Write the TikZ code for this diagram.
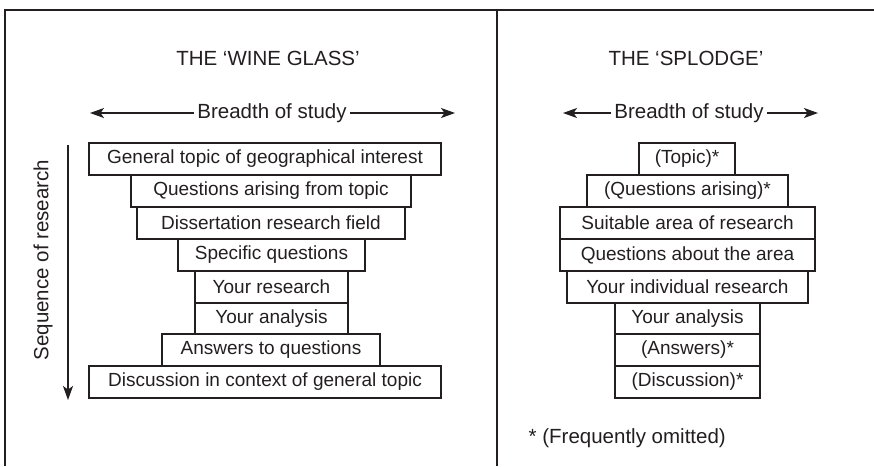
\documentclass[tikz,border=0pt]{standalone}
\usepackage{fontspec}
\setmainfont{Liberation Sans}
\usetikzlibrary{positioning,arrows.meta}
\definecolor{ink}{HTML}{231F20}
\tikzset{
  stage/.style = {draw=ink, line width=1.4pt, minimum height=32pt,
                  inner sep=0pt, text=ink, font=\fontsize{19}{21}\selectfont},
  ttl/.style   = {text=ink, inner sep=3.5pt, font=\fontsize{20.5}{23}\selectfont},
  ar/.style    = {-{Stealth[length=14pt,width=10pt,inset=3.5pt]}, line width=1.3pt, draw=ink},
  frame/.style = {draw=ink, line width=2.5pt},
}

\begin{document}
\begin{tikzpicture}[x=1pt,y=-1pt]
\useasboundingbox (0,0) rectangle (874,466);
% panels
\draw[frame] (5,466) -- (5,10) -- (874,10);
\draw[frame] (497,10) -- (497,466);

% the wine glass
\node[ttl] (wgtitle) at (268,58) {THE ‘WINE GLASS’};
\node[ttl] (wgbr) at (272,113) {Breadth of study};
\coordinate (wgbrL) at (90,113);
\coordinate (wgbrR) at (455,113);
\draw[ar] (wgbr.west) -- (wgbrL);
\draw[ar] (wgbr.east) -- (wgbrR);
\node[stage, minimum width=352pt] (wg1) at (265,159) {General topic of geographical interest};
\node[stage, minimum width=280pt] (wg2) at (271,191) {Questions arising from topic};
\node[stage, minimum width=268pt] (wg3) at (271,223) {Dissertation research field};
\node[stage, minimum width=187pt] (wg4) at (271.5,255) {Specific questions};
\node[stage, minimum width=153pt] (wg5) at (271.5,287) {Your research};
\node[stage, minimum width=153pt] (wg6) at (271.5,318.5) {Your analysis};
\node[stage, minimum width=218pt] (wg7) at (271,350) {Answers to questions};
\node[stage, minimum width=352pt] (wg8) at (265,382) {Discussion in context of general topic};
\coordinate (seqtop) at (68,145);
\coordinate (seqbot) at (68,400);
\draw[ar] (seqtop) -- (seqbot);
\node[ttl, rotate=90] (seq) at (43,260) {Sequence of research};

% the splodge
\node[ttl] (sptitle) at (686,58) {THE ‘SPLODGE’};
\node[ttl] (spbr) at (689,113) {Breadth of study};
\coordinate (spbrL) at (563,113);
\coordinate (spbrR) at (818,113);
\draw[ar] (spbr.west) -- (spbrL);
\draw[ar] (spbr.east) -- (spbrR);
\node[stage, minimum width=96pt] (sp1) at (687,159) {(Topic)*};
\node[stage, minimum width=201pt] (sp2) at (687.5,191) {(Questions arising)*};
\node[stage, minimum width=255pt] (sp3) at (687.5,223) {Suitable area of research};
\node[stage, minimum width=255pt] (sp4) at (687.5,255) {Questions about the area};
\node[stage, minimum width=241pt] (sp5) at (687.5,287) {Your individual research};
\node[stage, minimum width=145pt] (sp6) at (687.5,318.5) {Your analysis};
\node[stage, minimum width=145pt] (sp7) at (687.5,350) {(Answers)*};
\node[stage, minimum width=145pt] (sp8) at (687.5,382) {(Discussion)*};
\node[ttl, anchor=west] (spnote) at (525,438) {* (Frequently omitted)};
\end{tikzpicture}
\end{document}
